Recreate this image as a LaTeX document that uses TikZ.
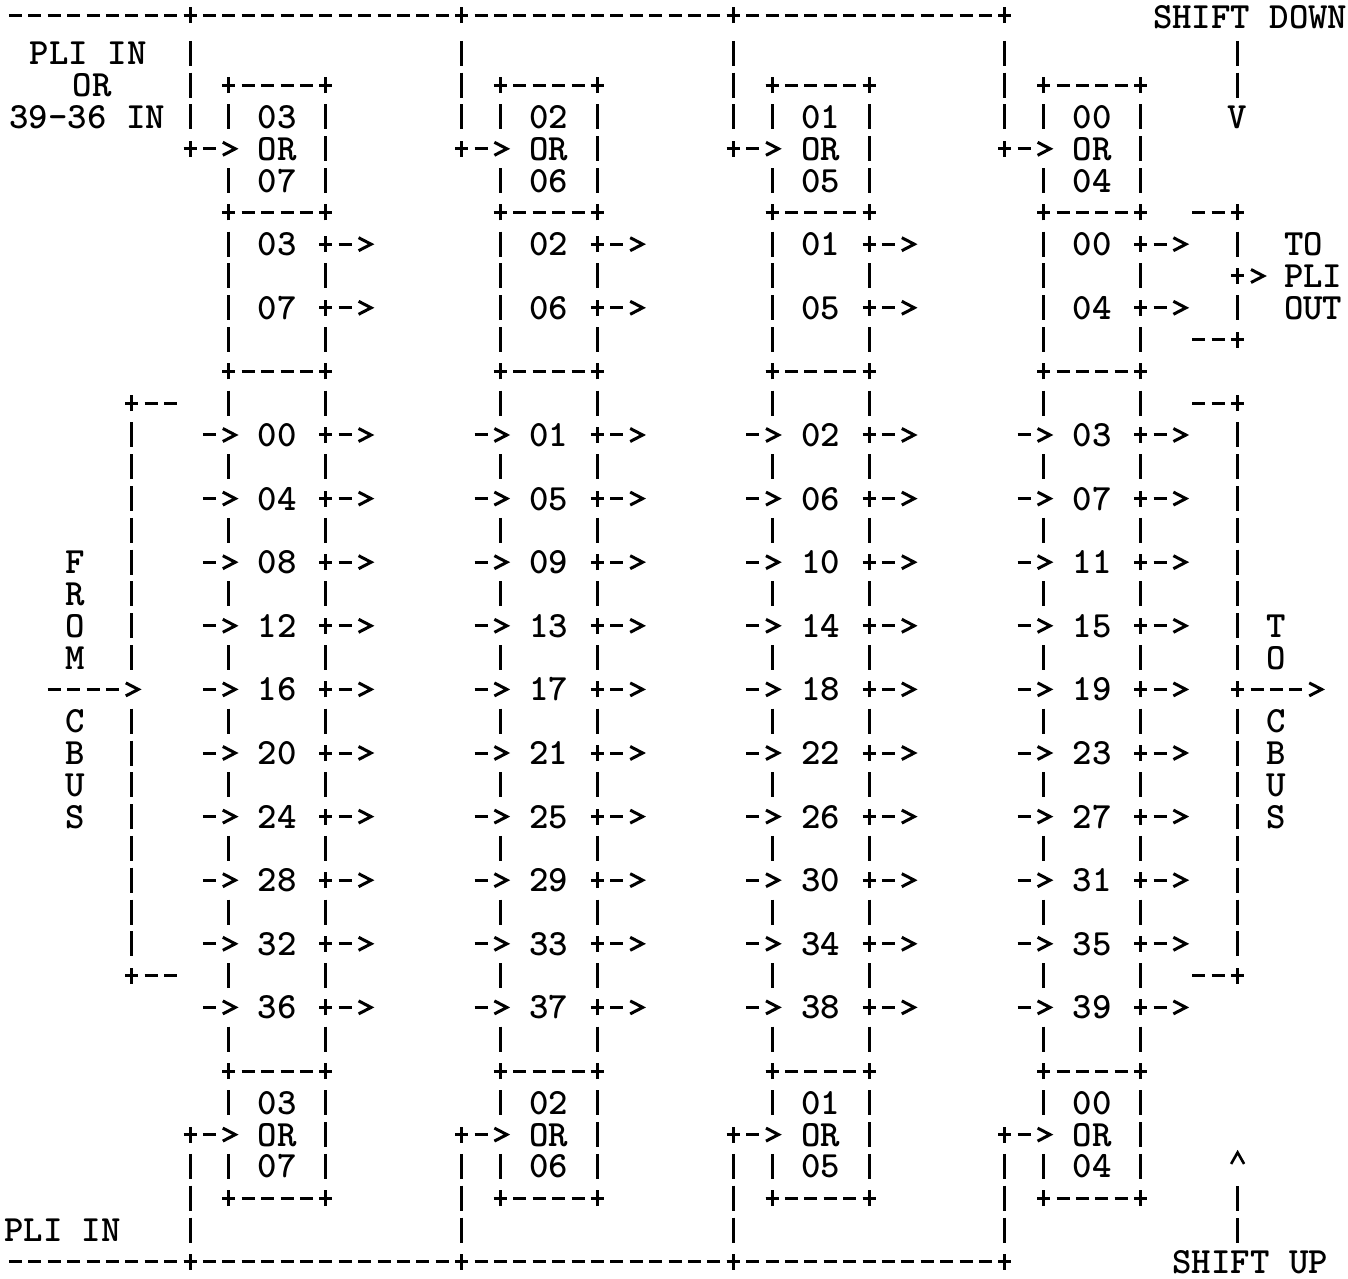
\documentclass[tikz,border=0pt]{standalone}
\usepackage{fontspec}
\usetikzlibrary{calc}
\newfontfamily\ttbold{lmmonolt10-bold.otf}
\tikzset{
  hdash/.style={line width=3pt,dash pattern=on 13pt off 6.4pt,dash phase=16.2pt},
  vdash/.style={line width=3pt,dash pattern=on 25pt off 6.8pt,dash phase=28.4pt},
  glyph/.style={line width=3pt,solid},
  lbl/.style={inner sep=0pt,font=\ttbold\fontsize{37}{37}\selectfont,text height=23pt,text depth=0pt},
  pics/plusg/.style={code={\draw[glyph] (-6.5pt,0pt)--(6.5pt,0pt) (0pt,-8pt)--(0pt,8pt);}},
  pics/chev/.style={code={\draw[glyph,miter limit=4] (-6pt,6.5pt)--(6.5pt,0pt)--(-6pt,-6.5pt);}},
  pics/upchev/.style={code={\draw[glyph,line width=2.6pt,miter limit=4] (-6.5pt,-5.5pt)--(0pt,6pt)--(6.5pt,-5.5pt);}}
}

\begin{document}
\begin{tikzpicture}[x=19.4pt,y=-31.8pt]
  \useasboundingbox (-0.794,-0.679) rectangle (68.691,39.541);
  \fill[white] (-0.794,-0.679) rectangle (68.691,39.541);
  \coordinate (tw) at (-0.5,-0.2);
  \coordinate (te) at (51.5,-0.2);
  \coordinate (bw) at (-0.5,39);
  \coordinate (be) at (51.5,39);
  \draw[hdash] (tw) -- (te);
  \draw[hdash] (bw) -- (be);
  \node[lbl] (shd) at (63.65,-0.15) {SHIFT DOWN};
  \node[lbl] (shu) at (63.65,39) {SHIFT UP};
  \node[lbl] (pli) at (3.75,1) {PLI IN};
  \node[lbl] (plor) at (3.95,2) {OR};
  \node[lbl] (pl36) at (3.7,3) {39-36 IN};
  \node[lbl] (plb) at (2.43,38) {PLI IN};
  \node[lbl] (dn) at (63,3) {V};
  \coordinate (up) at (63,35.75);
  \draw[vdash] (63,0.5) -- (63,2.5);
  \draw[vdash] (63,38.5) -- (63,36.5);
  \pic at (up) {upchev};
  \foreach \k in {0,...,3} {
    \pgfmathtruncatemacro\f{9+14*\k}
    \pgfmathtruncatemacro\L{\f+2}
    \pgfmathtruncatemacro\R{\f+7}
    \pgfmathtruncatemacro\hi{3-\k}
    \pgfmathtruncatemacro\lo{7-\k}
    \coordinate (ft\k) at (\f,-0.2);
    \coordinate (fb\k) at (\f,39);
    \pic at (ft\k) {plusg};
    \pic at (fb\k) {plusg};
    \draw[vdash] (\f,0.5) -- (\f,3.5);
    \draw[vdash] (\f,35.5) -- (\f,38.5);
    \foreach \rw in {4,35} {
      \pic at (\f,\rw) {plusg};
      \draw[hdash] (\f+0.5,\rw) -- (\f+1.5,\rw);
      \pic at (\L,\rw) {chev};
      \draw[vdash] (\L,\rw-1.5) -- (\L,\rw-0.5);
      \draw[vdash] (\L,\rw+0.5) -- (\L,\rw+1.5);
      \draw[vdash] (\R,\rw-1.5) -- (\R,\rw+1.5);
    }
    \foreach \rw in {2,6,11,33,37} {
      \draw[hdash] (\L-0.5,\rw) -- (\R+0.5,\rw);
      \pic at (\L,\rw) {plusg};
      \pic at (\R,\rw) {plusg};
    }
    \draw[vdash] (\L,6.5) -- (\L,10.5);
    \foreach \rw in {7,9,13,15,...,31} {
      \pic at (\R,\rw) {plusg};
      \draw[hdash] (\R+0.5,\rw) -- (\R+1.5,\rw);
      \pic at (\R+2,\rw) {chev};
    }
    \foreach \rw in {8,10,12,14,...,32}
      \draw[vdash] (\R,\rw-0.5) -- (\R,\rw+0.5);
    \foreach \rw in {12,14,...,32}
      \draw[vdash] (\L,\rw-0.5) -- (\L,\rw+0.5);
    \foreach \rw in {13,15,...,31} {
      \draw[hdash] (\L-1.5,\rw) -- (\L-0.5,\rw);
      \pic at (\L,\rw) {chev};
    }
    \node[lbl] (ou\k) at (\L+2.5,3) {0\hi};
    \node[lbl] (oo\k) at (\L+2.5,4) {OR};
    \node[lbl] (ol\k) at (\L+2.5,5) {0\lo};
    \node[lbl] (ra\k) at (\L+2.5,7) {0\hi};
    \node[lbl] (rb\k) at (\L+2.5,9) {0\lo};
    \node[lbl] (bu\k) at (\L+2.5,34) {0\hi};
    \node[lbl] (bo\k) at (\L+2.5,35) {OR};
    \node[lbl] (bl\k) at (\L+2.5,36) {0\lo};
    \foreach \j in {0,...,9} {
      \pgfmathtruncatemacro\v{4*\j+\k}
      \node[lbl] (m\k-\j) at (\L+2.5,13+2*\j) {\ifnum\v<10 0\fi\v};
    }
  }
  % from cbus
  \coordinate (lt) at (6,12);
  \coordinate (lm) at (6,21);
  \coordinate (lb) at (6,30);
  \draw[hdash] (5.5,12) -- (8.5,12);
  \draw[hdash] (5.5,30) -- (8.5,30);
  \pic at (lt) {plusg};
  \pic at (lb) {plusg};
  \draw[vdash] (6,12.5) -- (6,20.5);
  \draw[vdash] (6,21.5) -- (6,29.5);
  \draw[hdash] (1.5,21) -- (5.5,21);
  \pic at (lm) {chev};
  \foreach \ch/\rw in {F/17,R/18,O/19,M/20,C/22,B/23,U/24,S/25}
    \node[lbl] (fr\rw) at (3.1,\rw) {\ch};
  % to cbus
  \coordinate (rt) at (63,12);
  \coordinate (rm) at (63,21);
  \coordinate (rb) at (63,30);
  \draw[hdash] (60.5,12) -- (63.5,12);
  \draw[hdash] (60.5,30) -- (63.5,30);
  \pic at (rt) {plusg};
  \pic at (rb) {plusg};
  \draw[vdash] (63,12.5) -- (63,20.5);
  \draw[vdash] (63,21.5) -- (63,29.5);
  \pic at (rm) {plusg};
  \draw[hdash] (62.5,21) -- (66.5,21);
  \pic at (67,21) {chev};
  \foreach \ch/\rw in {T/19,O/20,C/22,B/23,U/24,S/25}
    \node[lbl] (to\rw) at (65,\rw) {\ch};
  % to pli out
  \coordinate (pt) at (63,6);
  \coordinate (pm) at (63,8);
  \coordinate (pb) at (63,10);
  \draw[hdash] (60.5,6) -- (63.5,6);
  \draw[hdash] (60.5,10) -- (63.5,10);
  \pic at (pt) {plusg};
  \pic at (pb) {plusg};
  \pic at (pm) {plusg};
  \draw[vdash] (63,6.5) -- (63,7.5);
  \draw[vdash] (63,8.5) -- (63,9.5);
  \pic at (64,8) {chev};
  \node[lbl] (pto) at (66.4,7) {TO};
  \node[lbl] (ppl) at (66.9,8) {PLI};
  \node[lbl] (pou) at (66.9,9) {OUT};
\end{tikzpicture}
\end{document}
